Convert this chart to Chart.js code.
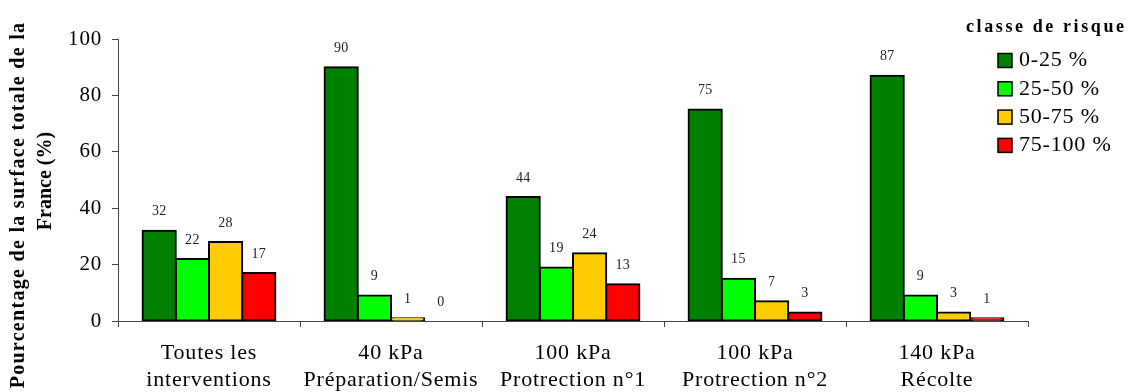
<!DOCTYPE html>
<html lang="fr">
<head>
<meta charset="UTF-8">
<title>Classe de risque</title>
<script src="https://cdn.jsdelivr.net/npm/chart.js"></script>
<style>
    body { margin: 0; background: #fff; }
    #wrap { width: 1130px; height: 392px; }
</style>
</head>
<body>
<div id="wrap"><canvas id="riskChart" width="1130" height="392"></canvas></div>
<script>
// categories (x axis, two lines each)
const categories = [
    ['Toutes les', 'interventions'],
    ['40 kPa', 'Préparation/Semis'],
    ['100 kPa', 'Protrection n°1'],
    ['100 kPa', 'Protrection n°2'],
    ['140 kPa', 'Récolte']
];
// risk classes
const classes = ['0-25 %', '25-50 %', '50-75 %', '75-100 %'];
const classColors = ['#008000', '#00ff00', '#ffcc00', '#ff0000'];
// values per class, one entry per category
const risk0_25 = [32, 90, 44, 75, 87];
const risk25_50 = [22, 9, 19, 15, 9];
const risk50_75 = [28, 1, 24, 7, 3];
const risk75_100 = [17, 0, 13, 3, 1];
const yTicks = [0, 20, 40, 60, 80, 100];
const yTitle = ['Pourcentage de la surface totale de la', 'France (%)'];
const legendTitle = 'classe de risque';

const serif = "'Liberation Serif', 'Times New Roman', serif";
const seriesValues = [risk0_25, risk25_50, risk50_75, risk75_100];

// the old Excel export has slightly wider text, so space the letters a bit
const spacing = {
    id: 'spacing',
    beforeDraw(chart) { chart.ctx.letterSpacing = '0.8px'; }
};

// value labels above the bars
const valueLabels = {
    id: 'valueLabels',
    afterDatasetsDraw(chart) {
        const ctx = chart.ctx;
        ctx.save();
        ctx.letterSpacing = '0.3px';
        ctx.font = '14px ' + serif;
        ctx.fillStyle = '#222';
        ctx.textAlign = 'center';
        ctx.textBaseline = 'middle';
        chart.data.datasets.forEach((ds, i) => {
            chart.getDatasetMeta(i).data.forEach((bar, j) => {
                ctx.fillText(String(ds.data[j]), bar.x, bar.y - 19);
            });
        });
        ctx.restore();
    }
};

// rotated two-line y title and legend box top right
const extras = {
    id: 'extras',
    afterDraw(chart) {
        const ctx = chart.ctx;
        ctx.save();
        ctx.fillStyle = '#000';
        ctx.textAlign = 'center';
        ctx.textBaseline = 'middle';
        ctx.font = 'bold 20px ' + serif;
        ctx.save();
        ctx.letterSpacing = '1.3px';
        ctx.translate(19, 205);
        ctx.rotate(-Math.PI / 2);
        ctx.fillText(yTitle[0], 0, 0);
        ctx.restore();
        ctx.save();
        ctx.letterSpacing = '0px';
        ctx.translate(46, 181);
        ctx.rotate(-Math.PI / 2);
        ctx.fillText(yTitle[1], 0, 0);
        ctx.restore();

        // legend
        ctx.textAlign = 'left';
        ctx.font = 'bold 18px ' + serif;
        ctx.letterSpacing = '2.6px';
        ctx.fillText(legendTitle, 966, 27);
        ctx.letterSpacing = '0.8px';
        ctx.font = '22px ' + serif;
        chart.data.datasets.forEach((ds, i) => {
            const y = 60.5 + i * 28.3;
            ctx.fillStyle = ds.backgroundColor;
            ctx.fillRect(998, y - 7, 14, 14);
            ctx.strokeStyle = '#000';
            ctx.lineWidth = 1.5;
            ctx.strokeRect(998, y - 7, 14, 14);
            ctx.fillStyle = '#000';
            ctx.fillText(ds.label, 1019, y);
        });
        ctx.restore();
    }
};

new Chart(document.getElementById('riskChart'), {
    type: 'bar',
    data: {
        labels: categories,
        datasets: classes.map((c, i) => ({
            label: c,
            data: seriesValues[i],
            backgroundColor: classColors[i],
            borderColor: '#000',
            borderWidth: 2,
            borderSkipped: false,
            inflateAmount: 1,
            barPercentage: 1,
            categoryPercentage: 0.73
        }))
    },
    options: {
        responsive: false,
        animation: false,
        layout: { padding: { left: 0, right: 102, top: 39, bottom: 0 } },
        plugins: {
            legend: { display: false },
            tooltip: { enabled: false }
        },
        scales: {
            x: {
                afterFit: (s) => { s.height = 71; },
                grid: {
                    offset: true,
                    drawOnChartArea: false,
                    tickLength: 6,
                    color: '#444'
                },
                border: { color: '#444', width: 1 },
                ticks: {
                    color: '#000',
                    padding: 13,
                    maxRotation: 0,
                    autoSkip: false,
                    font: { family: serif, size: 22, lineHeight: 1.22 }
                }
            },
            y: {
                min: 0,
                max: 100,
                afterFit: (s) => { s.width = 118; },
                afterBuildTicks: (s) => { s.ticks = yTicks.map(v => ({ value: v })); },
                grid: {
                    drawOnChartArea: false,
                    tickLength: 6,
                    color: '#444'
                },
                border: { color: '#444', width: 1 },
                ticks: {
                    color: '#000',
                    padding: 10,
                    font: { family: serif, size: 21 }
                }
            }
        }
    },
    plugins: [spacing, valueLabels, extras]
});
</script>
</body>
</html>
